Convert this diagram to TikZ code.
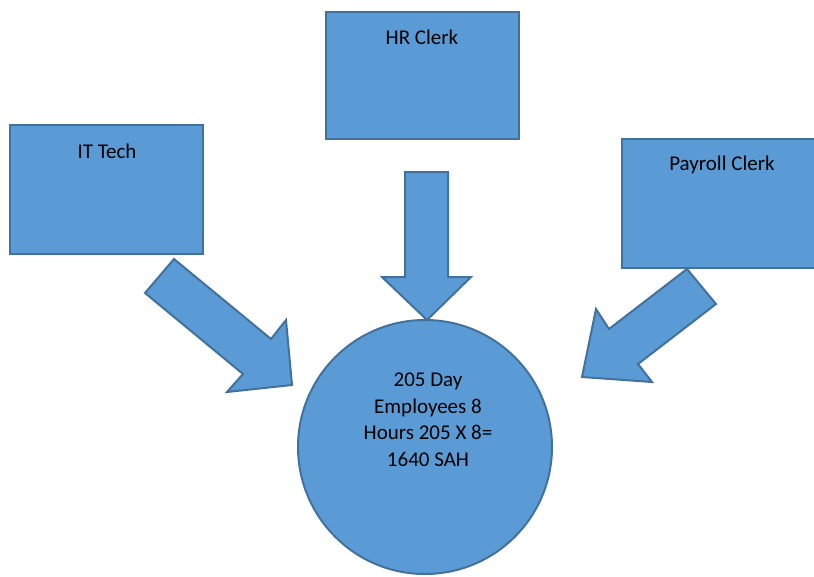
\documentclass[tikz,border=0pt]{standalone}
\usepackage{fontspec}
\setmainfont{Carlito}
\definecolor{boxfill}{HTML}{5B9BD5}
\definecolor{boxline}{HTML}{41719C}
\tikzset{
  shape fill/.style={fill=boxfill, draw=boxline, line width=2pt, line join=miter},
  label text/.style={font=\fontsize{21}{26.5}\selectfont, text=black, inner sep=0pt},
}
\begin{document}
\begin{tikzpicture}[x=1pt, y=-1pt]
  \useasboundingbox (0,0) rectangle (814,576);
  \clip (0,0) rectangle (814,576);

  % role boxes
  \draw[shape fill] (10,125) rectangle (203,254);
  \node[label text] (it) at (107,151) {IT Tech};
  \draw[shape fill] (326,12) rectangle (519,139);
  \node[label text] (hr) at (422,37) {HR Clerk};
  \draw[shape fill] (622,139) rectangle (818,268);
  \node[label text] (pay) at (722,165) {Payroll Clerk};

  % block arrows pointing at the total
  \draw[shape fill] (174,259) -- (271,339) -- (286,320) -- (292,385)
                    -- (227,392) -- (243,374) -- (145,293) -- cycle;
  \draw[shape fill] (405,172) -- (448,172) -- (448,277) -- (471,277)
                    -- (427,320) -- (382,277) -- (405,277) -- cycle;
  \draw[shape fill] (687,269) -- (716,304) -- (638,364) -- (652,382)
                    -- (582,377) -- (596,309) -- (609,329) -- cycle;

  % total of standard available hours
  \draw[shape fill] (425,447) circle[radius=127];
  \node[label text, align=center] (total) at (428,420)
    {205 Day\\Employees 8\\Hours 205 X 8=\\1640 SAH};
\end{tikzpicture}
\end{document}
